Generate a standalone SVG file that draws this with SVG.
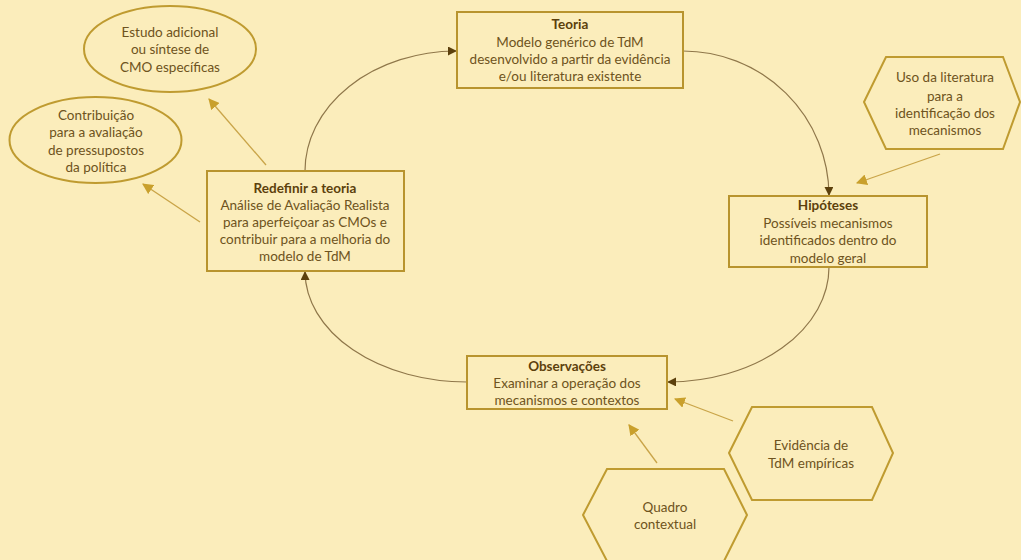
<svg xmlns="http://www.w3.org/2000/svg" width="1021" height="560" viewBox="0 0 1021 560">
  <defs>
    <style>
      .bg { fill: #fbedbb; }
      .box { fill: #fbedbb; stroke: #b8942e; stroke-width: 2; }
      .shape { fill: #fbedbb; stroke: #bf9b30; stroke-width: 2; }
      .cycle { fill: none; stroke: #8f774a; stroke-width: 1.2; }
      .feed { fill: none; stroke: #c9a448; stroke-width: 1.3; }
      text { font-family: Lato, "Open Sans", "Liberation Sans", sans-serif; font-size: 13.5px; fill: #6e5320; text-anchor: middle; }
      .title { font-weight: bold; fill: #5c400c; }
    </style>
    <marker id="arrowDark" viewBox="0 0 10 10" refX="9" refY="5" markerWidth="9" markerHeight="9" markerUnits="userSpaceOnUse" orient="auto">
      <path d="M0,0 L10,5 L0,10 z" fill="#5c400c"/>
    </marker>
    <marker id="arrowGold" viewBox="0 0 10 10" refX="9" refY="5" markerWidth="11" markerHeight="11" markerUnits="userSpaceOnUse" orient="auto">
      <path d="M0,0 L10,5 L0,10 z" fill="#c9a02c"/>
    </marker>
  </defs>

  <rect class="bg" x="0" y="0" width="1021" height="560"/>

  <!-- connectors -->
  <g id="connectors">
    <!-- main cycle -->
    <path class="cycle" d="M683,51 A146,145 0 0 1 829,195" marker-end="url(#arrowDark)"/>
    <path class="cycle" d="M829,267 A162,115 0 0 1 668,382" marker-end="url(#arrowDark)"/>
    <path class="cycle" d="M467,382 A162,111 0 0 1 305,272" marker-end="url(#arrowDark)"/>
    <path class="cycle" d="M305,171 A152,120 0 0 1 456,51" marker-end="url(#arrowDark)"/>
    <!-- inputs and outputs -->
    <path class="feed" d="M266,165 L209,99" marker-end="url(#arrowGold)"/>
    <path class="feed" d="M200,222 L143,184" marker-end="url(#arrowGold)"/>
    <path class="feed" d="M940,154 L857,183" marker-end="url(#arrowGold)"/>
    <path class="feed" d="M733,421 L675,399" marker-end="url(#arrowGold)"/>
    <path class="feed" d="M657,463 L629,425" marker-end="url(#arrowGold)"/>
  </g>

  <!-- cycle stages -->
  <g id="teoria">
    <rect class="box" x="457" y="12" width="226" height="76"/>
    <text class="title" x="570" y="29">Teoria</text>
    <text x="570" y="47">Modelo genérico de TdM</text>
    <text x="570" y="64">desenvolvido a partir da evidência</text>
    <text x="570" y="81">e/ou literatura existente</text>
  </g>

  <g id="hipoteses">
    <rect class="box" x="729" y="196" width="198" height="71"/>
    <text class="title" x="828" y="210">Hipóteses</text>
    <text x="828" y="228">Possíveis mecanismos</text>
    <text x="828" y="245">identificados dentro do</text>
    <text x="828" y="263">modelo geral</text>
  </g>

  <g id="observacoes">
    <rect class="box" x="467" y="356" width="200" height="53"/>
    <text class="title" x="567" y="371">Observações</text>
    <text x="567" y="388">Examinar a operação dos</text>
    <text x="567" y="405">mecanismos e contextos</text>
  </g>

  <g id="redefinir">
    <rect class="box" x="207" y="171" width="197" height="100"/>
    <text class="title" x="305" y="193">Redefinir a teoria</text>
    <text x="305" y="210">Análise de Avaliação Realista</text>
    <text x="305" y="227">para aperfeiçoar as CMOs e</text>
    <text x="305" y="244">contribuir para a melhoria do</text>
    <text x="305" y="261">modelo de TdM</text>
  </g>

  <!-- outputs -->
  <g id="estudo-adicional">
    <ellipse class="shape" cx="170" cy="49" rx="86" ry="43"/>
    <text x="170" y="37">Estudo adicional</text>
    <text x="170" y="54">ou síntese de</text>
    <text x="170" y="72">CMO específicas</text>
  </g>

  <g id="contribuicao">
    <ellipse class="shape" cx="95.5" cy="140" rx="86" ry="43"/>
    <text x="96" y="120">Contribuição</text>
    <text x="96" y="137">para a avaliação</text>
    <text x="96" y="155">de pressupostos</text>
    <text x="96" y="172">da política</text>
  </g>

  <!-- inputs -->
  <g id="uso-literatura">
    <polygon class="shape" points="864,102 886,57 1003,57 1020,102 1003,149 886,149"/>
    <text x="945" y="82">Uso da literatura</text>
    <text x="945" y="101">para a</text>
    <text x="945" y="118">identificação dos</text>
    <text x="945" y="135">mecanismos</text>
  </g>

  <g id="evidencia">
    <polygon class="shape" points="729,453 752,407 872,407 893,453 872,500 752,500"/>
    <text x="811" y="450">Evidência de</text>
    <text x="811" y="468">TdM empíricas</text>
  </g>

  <g id="quadro">
    <polygon class="shape" points="583,515 607,469 724,469 747,515 724,561 607,561"/>
    <text x="665" y="512">Quadro</text>
    <text x="665" y="529">contextual</text>
  </g>
</svg>
